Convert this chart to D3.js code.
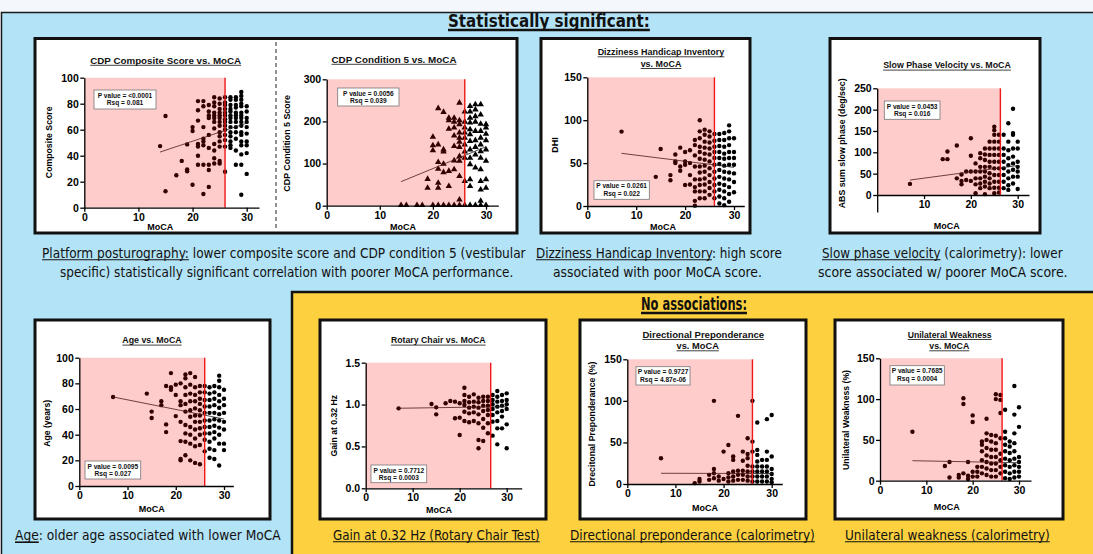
<!DOCTYPE html>
<html>
<head>
<meta charset="utf-8">
<script src="https://cdn.jsdelivr.net/npm/d3@7"></script>
<style>
  body { margin: 0; background: #f4f7fb; }
  svg { display: block; font-family: "Liberation Sans", Arial, sans-serif; }
</style>
</head>
<body>
<script>
// ---- data: [MoCA, value] ----
const compositePts = [[14,47.4],[15,70.5],[15,12.6],[17,25],[18,36],[19,28],[19,29.5],[19,48.7],[20,62],[20,59],[20,17.7],
  [21,82],[21,75],[21,67],[21,49],[21,47],[21,40],[21,33],
  [22,82],[22,78],[22,62],[22,53],[22,51],[22,48],[22,33],[22,10.5],
  [23,79],[23,74],[23,71],[23,69],[23,56],[23,46],[23,33],[23,29],[23,16],
  [24,85],[24,81],[24,78],[24,73],[24,71],[24,69],[24,66],[24,61],[24,49],[24,44],[24,38],[24,34],
  [25,84],[25,80],[25,76],[25,73],[25,71],[25,69],[25,66],[25,63],[25,58],[25,55],[25,51],[25,47],[25,36],[25,34],
  [26,85],[26,81],[26,79],[26,76],[26,73],[26,71],[26,68],[26,66],[26,63],[26,60],[26,56],[26,52],[26,47],[26,27.7],
  [27,85],[27,83],[27,79],[27,76],[27,74],[27,71],[27,69],[27,66],[27,62],[27,58],[27,55],[27,51],[27,48],[27,46],
  [28,85],[28,83],[28,79],[28,77],[28,73],[28,71],[28,69],[28,66],[28,62],[28,58],[28,53],[28,44],[28,33],
  [29,89],[29,86],[29,83],[29,80],[29,78],[29,73],[29,71],[29,69],[29,66],[29,63],[29,58],[29,56],[29,51],[29,48],[29,41],[29,33],[29,10],
  [30,78],[30,74],[30,69],[30,66],[30,62],[30,57],[30,51],[30,48],[30,42],[30,26]];
const cond5Pts = [[14,0],[15,0],[17,0],[18,0],[20,0],[21,0],[22,0],[23,0],[24,0],[25,0],[26,0],[27,0],[28,0],[29,0],[30,0],
  [19,62],[19,41],[20,162],[20,142],[20,130],
  [21,230],[21,144],[21,102],[21,86],[21,53],[21,41],
  [22,221],[22,132],[22,127],[22,98],[22,78],
  [23,207],[23,201],[23,181],[23,81],[23,45],
  [24,207],[24,198],[24,184],[24,165],[24,140],[24,106],[24,85],
  [25,243],[25,201],[25,192],[25,172],[25,160],[25,150],[25,138],[25,116],[25,105],[25,69],[25,13],
  [26,222],[26,198],[26,184],[26,172],[26,160],[26,144],[26,127],[26,112],[26,57],
  [27,235],[27,222],[27,207],[27,196],[27,180],[27,168],[27,152],[27,132],[27,112],[27,97],[27,61],[27,45],
  [28,239],[28,227],[28,211],[28,198],[28,176],[28,154],[28,138],[28,120],[28,89],
  [29,239],[29,215],[29,193],[29,176],[29,160],[29,144],[29,128],[29,112],[29,85],[29,57],[29,37],[29,10],
  [30,192],[30,184],[30,169],[30,154],[30,132],[30,105],[30,61],[30,41]];
const dhiPts = [[7,86.7],[14,34],[15,66.5],[17,36],[17,30],[18,60],[18,52],[18,50],[19,68],[19,46],[19,41],
  [20,63],[20,52],[20,48],[20,24.5],[21,65],[21,50],[21,36],[21,25],
  [22,77],[22,71],[22,59],[22,46],[22,31],[22,22],[22,17],[22,6],[22,0.4],
  [23,100],[23,87],[23,79],[23,69],[23,63],[23,55],[23,46],[23,39],[23,31],[23,24.5],[23,17],[23,9],
  [24,89],[24,83],[24,75],[24,68],[24,61],[24,54],[24,47],[24,40],[24,32],[24,25],[24,17],[24,9],
  [25,87],[25,81],[25,74],[25,67],[25,60],[25,52],[25,44],[25,36],[25,28],[25,21],[25,13],
  [26,84],[26,76],[26,69],[26,63],[26,56],[26,48],[26,40],[26,32],[26,24.5],[26,17],[26,9],
  [27,84],[27,77],[27,70],[27,63],[27,56],[27,49],[27,42],[27,34],[27,26],[27,19],[27,11],[27,3],
  [28,85],[28,77],[28,69],[28,61],[28,55],[28,47],[28,40],[28,32],[28,24.5],[28,17],[28,9],[28,1],
  [29,94],[29,87],[29,79],[29,71],[29,63],[29,56],[29,48],[29,39],[29,31],[29,22],[29,14],[29,5],
  [30,79],[30,63],[30,56],[30,48],[30,38],[30,28],[30,16]];
const spvPts = [[7,26],[14,84],[15,102],[15,84],[17,116],[17,39],[18,48],[18,33],[18,25],[19,55],[19,35],
  [20,133],[20,92],[20,55],[20,33],[21,74],[21,55],[21,39],[21,25],[21,4],
  [22,98],[22,86],[22,66],[22,55],[22,39],[22,27],[22,16],
  [23,109],[23,95],[23,82],[23,66],[23,55],[23,43],[23,31],[23,20],[23,2],
  [24,125],[24,109],[24,94],[24,78],[24,66],[24,51],[24,39],[24,27],[24,16],
  [25,160],[25,152],[25,141],[25,125],[25,109],[25,94],[25,78],[25,62.5],[25,47],[25,31],[25,17],[25,4],
  [26,141],[26,125],[26,109],[26,94],[26,78],[26,62.5],[26,47],[26,31],[26,17],[26,6],
  [27,141],[27,109],[27,94],[27,78],[27,62.5],[27,47],[27,31],[27,16],
  [28,168],[28,125],[28,105],[28,86],[28,70],[28,55],[28,39],[28,23],[28,12],
  [29,202],[29,145],[29,141],[29,109],[29,90],[29,74],[29,59],[29,43],[29,27],
  [30,125],[30,109],[30,78],[30,66],[30,55],[30,43],[30,14]];
const agePts = [[7,69.4],[14,72],[15,58],[15,53],[17,66],[17,63],[18,78],[18,48],[18,42],[19,88],[19,77],[19,75],
  [20,79],[20,71],[20,54.5],[21,80],[21,66],[21,63],[21,50],[21,35],[21,21],[21,20],
  [22,87],[22,84],[22,77],[22,71],[22,64],[22,58],[22,47.5],[22,41],[22,34.5],[22,24],
  [23,88],[23,79],[23,72],[23,66],[23,59],[23,54],[23,46],[23,40],[23,33],[23,20],
  [24,85],[24,77],[24,71],[24,66],[24,60.5],[24,55],[24,50],[24,44],[24,37],[24,31],[24,18],
  [25,78],[25,73],[25,68],[25,64],[25,59],[25,55],[25,50],[25,45],[25,40],[25,32],[25,17],
  [26,78],[26,73],[26,67],[26,62],[26,57],[26,51],[26,46],[26,41],[26,36],[26,27],
  [27,77],[27,72],[27,67],[27,62],[27,57],[27,51],[27,46],[27,41],[27,34.5],[27,29],[27,22],
  [28,78],[28,73],[28,68],[28,63],[28,57],[28,52],[28,47],[28,42],[28,37],[28,28],[28,21],
  [29,86],[29,82],[29,77],[29,71],[29,66],[29,61],[29,56],[29,51],[29,45.5],[29,40],[29,33],[29,16],
  [30,75],[30,68],[30,63],[30,57],[30,50],[30,44],[30,33],[30,28]];
const rotaryPts = [[7,0.955],[14,1.007],[15,0.967],[15,0.883],[17,1.015],[18,1.043],[19,1.035],[19,0.836],
  [20,1.015],[20,0.844],[20,0.637],
  [21,1.2],[21,1.114],[21,1.043],[21,0.995],[21,0.915],[21,0.804],
  [22,1.094],[22,1.027],[22,0.963],[22,0.895],[22,0.788],
  [23,1.122],[23,1.035],[23,0.975],[23,0.907],[23,0.804],
  [24,1.082],[24,1.027],[24,0.963],[24,0.883],[24,0.776],[24,0.577],[24,0.478],
  [25,1.094],[25,1.043],[25,0.987],[25,0.923],[25,0.828],[25,0.724],[25,0.565],
  [26,1.094],[26,1.043],[26,0.987],[26,0.935],[26,0.875],[26,0.776],[26,0.657],
  [27,1.114],[27,1.054],[27,1.003],[27,0.947],[27,0.875],[27,0.796],[27,0.629],
  [28,1.162],[28,1.094],[28,1.035],[28,0.975],[28,0.907],[28,0.804],[28,0.716],[28,0.525],
  [29,1.114],[29,1.043],[29,0.987],[29,0.923],[29,0.856],[29,0.716],
  [30,1.134],[30,1.054],[30,1.003],[30,0.947],[30,0.764],[30,0.478]];
const dpPts = [[7,31],[14,1],[15,6],[15,3],[17,11],[17,5],[18,100],[18,18],[18,13],[18,7],[19,9],[19,4],
  [20,39],[20,6],[21,47],[21,13],[21,8],[21,3],
  [22,33],[22,29],[22,15],[22,9],[22,4],
  [23,82],[23,16],[23,11],[23,5],
  [24,39],[24,28],[24,16],[24,11],[24,5],
  [25,55],[25,36],[25,31],[25,22],[25,15],[25,9],[25,4],
  [26,100],[26,51],[26,39],[26,21],[26,15],[26,9],[26,3],
  [27,74],[27,41],[27,35],[27,27],[27,21],[27,15],[27,9],[27,3],
  [28,29],[28,21],[28,15],[28,9],[28,3],
  [29,78],[29,39],[29,29],[29,21],[29,15],[29,9],[29,3],
  [30,83],[30,33],[30,18],[30,12],[30,6],[30,2]];
const uwPts = [[7,60],[14,18],[15,23],[15,4],[17,7],[17,4],[18,101],[18,94],[18,9],[19,23],[19,6],[19,2],
  [20,80],[20,72],[20,11],[20,5],[21,17],[21,11],[21,5],
  [22,48],[22,44],[22,36],[22,25],[22,17],[22,9],
  [23,76],[23,58],[23,50],[23,40],[23,31],[23,23],[23,15],[23,7],
  [24,56],[24,48],[24,38],[24,29],[24,21],[24,13],[24,5],
  [25,106],[25,100],[25,55],[25,46],[25,38],[25,29],[25,21],[25,13],[25,5],
  [26,105],[26,99],[26,83],[26,52],[26,33],[26,25],[26,17],[26,9],
  [27,87],[27,60],[27,52],[27,44],[27,36],[27,27],[27,19],[27,11],[27,3],
  [28,48],[28,42],[28,34],[28,25],[28,17],[28,9],[28,2],
  [29,116],[29,81],[29,58],[29,46],[29,36],[29,27],[29,19],[29,11],[29,4],
  [30,90],[30,66],[30,29],[30,23],[30,17],[30,11],[30,5]];

// regression line end points [MoCA, value]
const compositeFit = [[14,42.8],[30,65]];
const cond5Fit = [[14,57],[30,140]];
const dhiFit = [[7,61.4],[30,45]];
const spvFit = [[7,35],[30,69]];
const ageFit = [[7,69.4],[30,52.2]];
const rotaryFit = [[7,0.956],[30,0.975]];
const dpFit = [[7,12.9],[30,12.6]];
const uwFit = [[7,24.5],[30,22]];

// stats boxes
const compositeStats = ["P value = <0.0001", "Rsq = 0.081"];
const cond5Stats = ["P value = 0.0056", "Rsq = 0.039"];
const dhiStats = ["P value = 0.0261", "Rsq = 0.022"];
const spvStats = ["P value = 0.0453", "Rsq = 0.016"];
const ageStats = ["P value = 0.0095", "Rsq = 0.027"];
const rotaryStats = ["P value = 0.7712", "Rsq = 0.0003"];
const dpStats = ["P value = 0.9727", "Rsq = 4.87e-06"];
const uwStats = ["P value = 0.7685", "Rsq = 0.0004"];

const yTicksPct = [0, 50, 100, 150];
const xTicksMoca = [0, 10, 20, 30];

const W = 1093, H = 554;
const svg = d3.select("body").append("svg").attr("width", W).attr("height", H);

// backgrounds
svg.append("rect").attr("x", 1.5).attr("y", 12.5).attr("width", W).attr("height", H)
  .attr("fill", "#b3e3f6").attr("stroke", "#1a1a1a").attr("stroke-width", 1.5);
svg.append("rect").attr("x", 292).attr("y", 292).attr("width", 810).attr("height", 280)
  .attr("fill", "#fdd03f").attr("stroke", "#111").attr("stroke-width", 2.5);

// white boxes [x1,y1,x2,y2]
const boxes = [[35,38.5,517,233],[541,38.5,750,233],[830,38.5,1040,233],
  [35,320,270,519],[320,320,546,519],[580,320,806,519],[835,320,1063,519]];
boxes.forEach(b => {
  svg.append("rect").attr("x", b[0]).attr("y", b[1]).attr("width", b[2]-b[0]).attr("height", b[3]-b[1])
    .attr("fill", "#fff").attr("stroke", "#111").attr("stroke-width", 3);
});
svg.append("line").attr("x1", 276).attr("x2", 276).attr("y1", 42).attr("y2", 230)
  .attr("stroke", "#222").attr("stroke-width", 1).attr("stroke-dasharray", "4,3");

function scatter(c) {
  const g = svg.append("g");
  const xEndVal = 30 * (c.xEndPx - c.x0) / (c.x30 - c.x0);
  const x = d3.scaleLinear().domain([0, xEndVal]).range([c.x0, c.xEndPx]);
  const yLow = c.yLow || 0;
  const y = d3.scaleLinear().domain([0, c.yMax]).range([c.y0, c.yTop]);
  const yAx = d3.scaleLinear().domain([yLow, c.yMax]).range([y(yLow), c.yTop]);

  // points
  if (c.marker === "tri") {
    const sym = d3.symbol().type(d3.symbolTriangle).size(18);
    g.selectAll(".pt").data(c.pts).enter().append("path")
      .attr("d", sym).attr("transform", d => `translate(${x(d[0])},${y(d[1]) - 0.5})`).attr("fill", "#000");
  } else {
    g.selectAll(".pt").data(c.pts).enter().append("circle")
      .attr("cx", d => x(d[0])).attr("cy", d => y(d[1])).attr("r", 2.2).attr("fill", "#000");
  }
  // fit
  g.append("path").datum(c.fit)
    .attr("d", d3.line().x(d => x(d[0])).y(d => y(d[1])))
    .attr("stroke", "#222").attr("stroke-width", 0.8).attr("fill", "none");
  // shaded region
  g.append("rect").attr("x", x(0)).attr("y", y(c.yMax)).attr("width", x(c.cut) - x(0))
    .attr("height", y(0) - y(c.yMax)).attr("fill", "#ff0000").attr("opacity", 0.2);
  g.append("line").attr("x1", x(c.cut)).attr("x2", x(c.cut)).attr("y1", y(0)).attr("y2", y(c.yMax))
    .attr("stroke", "#f01818").attr("stroke-width", 1.4);

  // axes
  const ya = g.append("g").attr("transform", `translate(${c.x0},0)`)
    .call(d3.axisLeft(yAx).tickValues(c.yTicks).tickSize(4).tickSizeOuter(0).tickPadding(1.5)
      .tickFormat(c.yFmt || d3.format("d")));
  const xa = g.append("g").attr("transform", `translate(0,${y(0)})`)
    .call(d3.axisBottom(x).tickValues(c.xTicks).tickSize(4).tickSizeOuter(0).tickPadding(1.5)
      .tickFormat(d3.format("d")));
  [ya, xa].forEach(a => {
    a.selectAll("path,line").attr("stroke", "#000").attr("stroke-width", 1.3);
    a.selectAll("text").attr("fill", "#000").attr("font-size", 10.5).attr("font-weight", "bold");
  });

  // title
  c.title.forEach(t => {
    g.append("text").attr("x", t.x).attr("y", t.y).attr("text-anchor", "middle")
      .attr("font-size", 9).attr("font-weight", "bold").attr("fill", "#111")
      .attr("textLength", t.w).attr("lengthAdjust", "spacingAndGlyphs").text(t.s);
    g.append("line").attr("x1", t.x - t.w/2).attr("x2", t.x + t.w/2).attr("y1", t.y + 1.8).attr("y2", t.y + 1.8)
      .attr("stroke", "#111").attr("stroke-width", 0.8);
  });
  // axis titles
  const yl = g.append("text").attr("transform", `translate(${c.yLab.x},${c.yLab.y}) rotate(-90)`)
    .attr("text-anchor", "middle").attr("font-size", 9).attr("font-weight", "bold").text(c.yLab.s);
  if (c.yLab.w) yl.attr("textLength", c.yLab.w).attr("lengthAdjust", "spacingAndGlyphs");
  g.append("text").attr("x", c.xLab.x).attr("y", c.xLab.y).attr("text-anchor", "middle")
    .attr("font-size", 9).attr("font-weight", "bold").text("MoCA");

  // stats box
  const b = c.box;
  g.append("rect").attr("x", b[0]).attr("y", b[1]).attr("width", b[2]-b[0]).attr("height", b[3]-b[1])
    .attr("fill", "#fff").attr("stroke", "#777").attr("stroke-width", 0.8);
  c.stats.forEach((s, i) => {
    g.append("text").attr("x", (b[0]+b[2])/2).attr("y", b[1] + 7.6 + i*7.6).attr("text-anchor", "middle")
      .attr("font-size", 6.6).attr("font-weight", "bold").attr("fill", "#111").text(s);
  });
}

const charts = [
  {pts: compositePts, fit: compositeFit, stats: compositeStats, cut: 26,
   x0: 84.3, x30: 246.7, xEndPx: 259, y0: 207.7, yTop: 77.7, yMax: 100, yTicks: [0,20,40,60,80,100], xTicks: xTicksMoca,
   title: [{s: "CDP Composite Score vs. MoCA", x: 165.7, y: 63.5, w: 151}],
   yLab: {s: "Composite Score", x: 51.5, y: 142.3, w: 71.7}, xLab: {x: 160.3, y: 229.5}, box: [94,90,156,109]},
  {pts: cond5Pts, fit: cond5Fit, stats: cond5Stats, cut: 26, marker: "tri",
   x0: 326.7, x30: 486, xEndPx: 498.3, y0: 205.7, yTop: 79.3, yMax: 300, yTicks: [0,100,200,300], xTicks: xTicksMoca,
   title: [{s: "CDP Condition 5 vs. MoCA", x: 394, y: 62.5, w: 125}],
   yLab: {s: "CDP Condition 5 Score", x: 290, y: 143.3, w: 96.7}, xLab: {x: 403, y: 229.5}, box: [337.7,88,399,106]},
  {pts: dhiPts, fit: dhiFit, stats: dhiStats, cut: 26,
   x0: 587.3, x30: 734, xEndPx: 744.3, y0: 206, yTop: 77.3, yMax: 150, yTicks: yTicksPct, xTicks: xTicksMoca,
   title: [{s: "Dizziness Handicap Inventory", x: 661, y: 55, w: 126.7}, {s: "vs. MoCA", x: 661, y: 66.7, w: 40.7}],
   yLab: {s: "DHI", x: 558, y: 145}, xLab: {x: 663, y: 229.5}, box: [594,180.7,649.3,199.3]},
  {pts: spvPts, fit: spvFit, stats: spvStats, cut: 26.3, yLow: -40,
   x0: 877.2, x30: 1017.7, xEndPx: 1029, y0: 195, yTop: 88.3, yMax: 250, yTicks: [0,50,100,150,200,250], xTicks: [10,20,30],
   title: [{s: "Slow Phase Velocity vs. MoCA", x: 947, y: 68.3, w: 127.7}],
   yLab: {s: "ABS sum slow phase (deg/sec)", x: 844.5, y: 143.3, w: 130}, xLab: {x: 946.7, y: 229}, box: [884.3,101,940,119.3]},
  {pts: agePts, fit: ageFit, stats: ageStats, cut: 26,
   x0: 79.3, x30: 224, xEndPx: 233.3, y0: 486, yTop: 357.7, yMax: 100, yTicks: [0,20,40,60,80,100], xTicks: xTicksMoca,
   title: [{s: "Age vs. MoCA", x: 152, y: 343.3, w: 59.3}],
   yLab: {s: "Age (years)", x: 49.5, y: 423.3, w: 46.7}, xLab: {x: 151.7, y: 511.5}, box: [85,461,140.7,479]},
  {pts: rotaryPts, fit: rotaryFit, stats: rotaryStats, cut: 26.6, yFmt: d3.format(".1f"),
   x0: 365.7, x30: 506.7, xEndPx: 521.7, y0: 488.3, yTop: 362.7, yMax: 1.5, yTicks: [0,0.5,1,1.5], xTicks: xTicksMoca,
   title: [{s: "Rotary Chair vs. MoCA", x: 438.3, y: 343.3, w: 94.7}],
   yLab: {s: "Gain at 0.32 Hz", x: 336.5, y: 425.7, w: 61.7}, xLab: {x: 439, y: 513}, box: [371,465,426.7,482.7]},
  {pts: dpPts, fit: dpFit, stats: dpStats, cut: 26,
   x0: 627.3, x30: 771.7, xEndPx: 782.3, y0: 484, yTop: 359.3, yMax: 150, yTicks: yTicksPct, xTicks: xTicksMoca,
   title: [{s: "Directional Preponderance", x: 703.3, y: 337.7, w: 121.7}, {s: "vs. MoCA", x: 697.7, y: 349, w: 42.3}],
   yLab: {s: "Drecitonal Preponderance (%)", x: 594.7, y: 424, w: 125}, xLab: {x: 705, y: 511}, box: [636,366.7,690,385]},
  {pts: uwPts, fit: uwFit, stats: uwStats, cut: 26.35,
   x0: 880, x30: 1019, xEndPx: 1031, y0: 480.7, yTop: 358.3, yMax: 150, yTicks: yTicksPct, xTicks: xTicksMoca,
   title: [{s: "Unilateral Weakness", x: 949.7, y: 337.7, w: 84}, {s: "vs. MoCA", x: 949.3, y: 349, w: 40}],
   yLab: {s: "Unilateral Weakness (%)", x: 849, y: 420, w: 100}, xLab: {x: 946.7, y: 509.5}, box: [890,365.7,944.3,385]}
];
charts.forEach(scatter);

// headings and captions: font size fitted so the natural width matches the reference span
const capFont = '"DejaVu Sans Condensed", "Open Sans", sans-serif';
function underline(node, yb, parts, ulw) {
  let idx = 0;
  parts.forEach(p => {
    if (p[1]) {
      const a = node.getStartPositionOfChar(idx).x;
      const b = node.getEndPositionOfChar(idx + p[0].length - 1).x;
      svg.append("line").attr("x1", a).attr("x2", b).attr("y1", yb + ulw + 0.6).attr("y2", yb + ulw + 0.6)
        .attr("stroke", "#111").attr("stroke-width", ulw);
    }
    idx += p[0].length;
  });
}
function caption(x1, x2, yb, parts, size, weight, ulw) {
  const t = svg.append("text").attr("x", x1).attr("y", yb).attr("font-family", capFont)
    .attr("font-size", size).attr("font-weight", weight || "normal").attr("fill", "#111");
  parts.forEach(p => t.append("tspan").text(p[0]));
  const fs = size * (x2 - x1) / t.node().getComputedTextLength();
  t.attr("font-size", fs);
  underline(t.node(), yb, parts, ulw);
  return fs;
}
const headSize = caption(448, 650, 27, [["Statistically significant:", true]], 18, "bold", 2.4);
// second heading: same glyph size, squeezed to its span like the narrow original face
const h2 = svg.append("text").attr("x", 641).attr("y", 310).attr("font-family", capFont)
  .attr("font-size", headSize).attr("font-weight", "bold").attr("fill", "#111")
  .attr("textLength", 106).attr("lengthAdjust", "spacingAndGlyphs").text("No associations:");
underline(h2.node(), 310, [["No associations:", true]], 2.4);

caption(42, 526, 258, [["Platform posturography:", true], [" lower composite score and CDP condition 5 (vestibular", false]], 14, "normal", 1.1);
caption(60, 514, 277, [["specific) statistically significant correlation with poorer MoCA performance.", false]], 14, "normal", 1.1);
caption(536, 782, 258, [["Dizziness Handicap Inventory", true], [": high score", false]], 14, "normal", 1.1);
caption(553, 762, 277, [["associated with poor MoCA score.", false]], 14, "normal", 1.1);
caption(822, 1063, 258, [["Slow phase velocity", true], [" (calorimetry): lower", false]], 14, "normal", 1.1);
caption(818, 1068, 277, [["score associated w/ poorer MoCA score.", false]], 14, "normal", 1.1);
caption(15, 281, 540, [["Age", true], [": older age associated with lower MoCA", false]], 14, "normal", 1.6);
caption(333, 540, 540, [["Gain at 0.32 Hz (Rotary Chair Test)", true]], 14, "normal", 1.1);
caption(570, 815, 540, [["Directional preponderance (calorimetry)", true]], 14, "normal", 1.1);
caption(845, 1050, 540, [["Unilateral weakness (calorimetry)", true]], 14, "normal", 1.1);
</script>
</body>
</html>
